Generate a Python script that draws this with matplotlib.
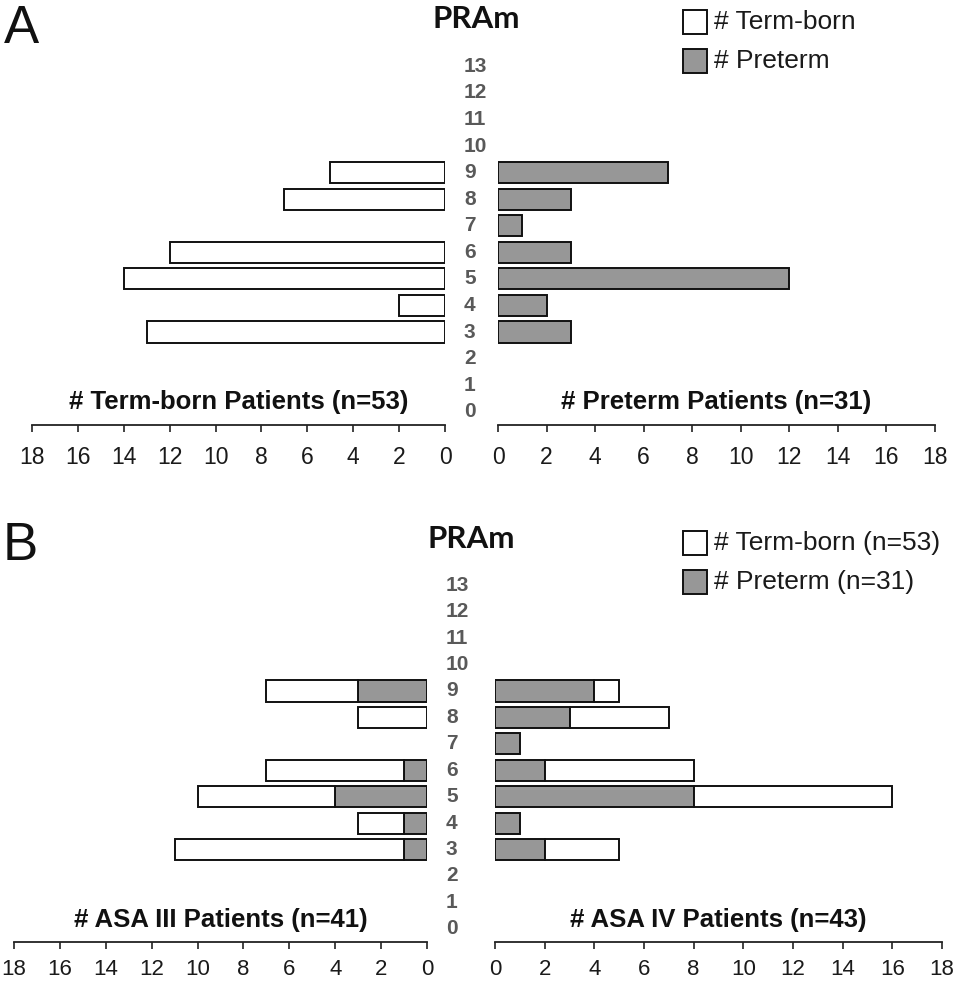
import matplotlib
matplotlib.use("Agg")
import matplotlib.pyplot as plt
import matplotlib.transforms as mtransforms
import numpy as np

# ---------------- data ----------------
pram_levels = list(range(14))
a_term = [0, 0, 0, 13, 2, 14, 12, 0, 7, 5, 0, 0, 0, 0]
a_preterm = [0, 0, 0, 3, 2, 12, 3, 1, 3, 7, 0, 0, 0, 0]
b_asa3_preterm = [0, 0, 0, 1, 1, 4, 1, 0, 0, 3, 0, 0, 0, 0]
b_asa3_term = [0, 0, 0, 10, 2, 6, 6, 0, 3, 4, 0, 0, 0, 0]
b_asa4_preterm = [0, 0, 0, 2, 1, 8, 2, 1, 3, 4, 0, 0, 0, 0]
b_asa4_term = [0, 0, 0, 3, 0, 8, 6, 0, 4, 1, 0, 0, 0, 0]
x_ticks = [0, 2, 4, 6, 8, 10, 12, 14, 16, 18]

titles_a = ["# Term-born Patients (n=53)", "# Preterm Patients (n=31)"]
titles_b = ["# ASA III Patients (n=41)", "# ASA IV Patients (n=43)"]
legend_a = ["# Term-born", "# Preterm"]
legend_b = ["# Term-born (n=53)", "# Preterm (n=31)"]

WHITE = "white"
GRAY = "#979797"
EDGE = "#111111"
LABEL_GRAY = "#595959"
FONT = "Liberation Sans"

W, H = 957, 983
fig = plt.figure(figsize=(W / 100, H / 100), dpi=100)


def px_axes(x0, x1, ytop, ybot):
    return fig.add_axes([x0 / W, (H - ybot) / H, (x1 - x0) / W, (ybot - ytop) / H])


def style_axis(ax, invert, title, title_y, pad, fs):
    ax.set_xlim(0, 18)
    if invert:
        ax.invert_xaxis()
    ax.set_ylim(-0.5, 13.5)
    for s in ["top", "left", "right"]:
        ax.spines[s].set_visible(False)
    ax.spines["bottom"].set_linewidth(1.3)
    ax.spines["bottom"].set_color("#222222")
    ax.set_yticks([])
    ax.set_xticks(x_ticks)
    ax.set_xticklabels([str(t) for t in x_ticks], fontsize=fs, family=FONT, color="#1a1a1a")
    ax.tick_params(axis="x", direction="out", length=5, width=1.2, pad=pad, color="#222222")
    ax.text(9, title_y, title, ha="center", va="center", fontsize=18.5, fontweight="bold",
            family=FONT, color="#111111", transform=ax.transData)
    ax.patch.set_alpha(0)


def bars(ax, left, width, color):
    y = np.array(pram_levels)
    l = np.array(left, dtype=float)
    w = np.array(width, dtype=float)
    m = w > 0
    ax.barh(y[m], w[m], left=l[m], height=0.8, color=color, edgecolor=EDGE, linewidth=1.4)


def level_labels(ax, x_px):
    tr = mtransforms.blended_transform_factory(fig.transFigure, ax.transData)
    for lv in pram_levels:
        fig.text(x_px / W, lv, str(lv), transform=tr, ha="left", va="center",
                 fontsize=15, fontweight="bold", family=FONT, color=LABEL_GRAY)


def legend_block(x_px, ytop_px, labels):
    for i, (lab, col) in enumerate(zip(labels, [WHITE, GRAY])):
        y0 = ytop_px + i * 39
        rect = plt.Rectangle((x_px / W, (H - y0 - 24) / H), 24 / W, 24 / H,
                             transform=fig.transFigure, facecolor=col, edgecolor=EDGE,
                             linewidth=1.4)
        fig.patches.append(rect)
        fig.text((x_px + 31) / W, (H - y0 - 12) / H, lab, ha="left", va="center",
                 fontsize=19, family=FONT, color="#1a1a1a")


# ---------------- Panel A ----------------
axA_l = px_axes(32, 445, 53, 425)
axA_r = px_axes(498, 935, 53, 425)
bars(axA_l, [0] * 14, a_term, WHITE)
bars(axA_r, [0] * 14, a_preterm, GRAY)
style_axis(axA_l, True, titles_a[0], 0.38, 10, 16.5)
style_axis(axA_r, False, titles_a[1], 0.38, 10, 16.5)
level_labels(axA_l, 464)
legend_block(683, 10, legend_a)
fig.text(476 / W, (H - 19) / H, "PRAm", ha="center", va="center", fontsize=22.5,
         fontweight="bold", family="Lato", color="#111111")
fig.text(4 / W, (H - 29) / H, "A", ha="left", va="center", fontsize=38,
         family=FONT, color="#111111")

# ---------------- Panel B ----------------
axB_l = px_axes(14, 427, 572, 942)
axB_r = px_axes(495, 942, 572, 942)
bars(axB_l, [0] * 14, b_asa3_preterm, GRAY)
bars(axB_l, b_asa3_preterm, b_asa3_term, WHITE)
bars(axB_r, [0] * 14, b_asa4_preterm, GRAY)
bars(axB_r, b_asa4_preterm, b_asa4_term, WHITE)
style_axis(axB_l, True, titles_b[0], 0.32, 7, 16)
style_axis(axB_r, False, titles_b[1], 0.32, 7, 16)
level_labels(axB_l, 446)
legend_block(683, 531, legend_b)
fig.text(471 / W, (H - 539) / H, "PRAm", ha="center", va="center", fontsize=22.5,
         fontweight="bold", family="Lato", color="#111111")
fig.text(3 / W, (H - 546) / H, "B", ha="left", va="center", fontsize=38,
         family=FONT, color="#111111")

fig.savefig("out.png", dpi=100, facecolor="white")
